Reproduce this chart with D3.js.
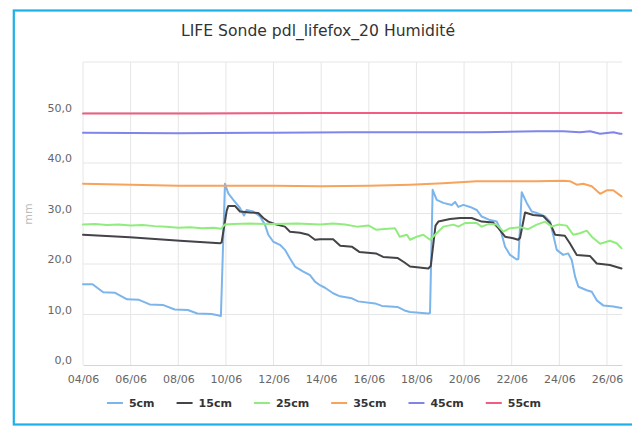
<!DOCTYPE html>
<html>
<head>
<meta charset="utf-8">
<script src="https://cdn.jsdelivr.net/npm/d3@7"></script>
<style>
  body { margin: 0; background: #fff; }
  text { font-family: "DejaVu Sans", sans-serif; }
</style>
</head>
<body>
<svg id="drawing_region"></svg>
<script>
// day offsets from 04/06 00:00, value in mm
const s5cm = [[0,16.0],[0.4,16.0],[0.85,14.4],[1.35,14.3],[1.85,13.0],[2.35,12.9],[2.8,12.0],[3.35,11.9],[3.85,11.0],[4.4,10.9],[4.8,10.2],[5.4,10.1],[5.7,9.8],[5.79,9.7],[5.96,35.9],[6.10,34.0],[6.31,32.7],[6.59,31.1],[6.76,29.6],[6.87,30.7],[7.15,30.4],[7.43,29.4],[7.64,27.8],[7.78,25.8],[7.99,24.4],[8.27,23.8],[8.48,22.8],[8.69,21.1],[8.90,19.5],[9.25,18.5],[9.53,17.8],[9.74,16.5],[9.95,15.8],[10.16,15.3],[10.5,14.2],[10.79,13.6],[11.29,13.2],[11.55,12.6],[12.26,12.2],[12.55,11.7],[13.2,11.5],[13.5,10.8],[13.73,10.5],[14.50,10.2],[14.57,10.3],[14.68,34.7],[14.85,32.7],[15.13,32.1],[15.48,31.7],[15.62,32.3],[15.76,31.3],[15.97,31.7],[16.25,31.3],[16.53,30.7],[16.74,29.4],[17.09,28.7],[17.37,28.4],[17.51,27.1],[17.72,23.4],[17.93,21.8],[18.21,20.9],[18.28,21.0],[18.42,34.2],[18.63,32.1],[18.84,30.4],[19.05,30.1],[19.40,29.4],[19.61,28.4],[19.74,25.8],[19.89,22.8],[20.16,21.8],[20.37,22.1],[20.52,20.8],[20.66,17.5],[20.80,15.5],[21.15,14.8],[21.36,14.5],[21.57,12.8],[21.84,11.8],[22.26,11.6],[22.61,11.3]];
const s15cm = [[0,25.8],[1.97,25.3],[4.07,24.6],[5.75,24.1],[5.82,24.3],[6.03,30.5],[6.10,31.5],[6.38,31.5],[6.59,30.4],[7.01,30.2],[7.36,30.1],[7.57,29.1],[7.78,28.4],[8.13,27.8],[8.48,27.4],[8.69,26.4],[9.11,26.2],[9.46,25.8],[9.74,24.8],[9.95,24.9],[10.5,24.9],[10.8,23.6],[11.3,23.4],[11.6,22.4],[12.3,22.1],[12.6,21.4],[13.2,21.2],[13.5,20.3],[13.73,19.5],[14.5,19.1],[14.6,19.6],[14.8,27.6],[14.92,28.4],[15.41,28.9],[15.83,29.1],[16.32,29.1],[16.74,28.4],[17.22,28.2],[17.44,27.1],[17.72,25.4],[18.06,25.1],[18.27,24.8],[18.35,25.2],[18.56,30.2],[18.90,29.7],[19.32,29.5],[19.61,28.1],[19.82,25.8],[20.23,25.6],[20.44,24.1],[20.73,21.8],[21.28,21.6],[21.57,20.1],[22.12,19.8],[22.61,19.1]];
const s25cm = [[0,27.8],[0.5,27.9],[1.0,27.7],[1.5,27.8],[2.0,27.6],[2.5,27.7],[3.0,27.5],[3.5,27.4],[4.0,27.2],[4.5,27.3],[5.0,27.1],[5.5,27.2],[5.8,27.0],[5.95,27.8],[6.3,27.9],[7.0,28.0],[8.0,27.9],[9.0,28.0],[9.95,27.8],[10.5,28.0],[11.0,27.8],[11.5,27.4],[12.0,27.6],[12.3,26.8],[12.8,27.0],[13.1,27.1],[13.3,25.4],[13.6,25.8],[13.73,24.8],[14.01,25.4],[14.29,25.8],[14.57,24.8],[14.78,25.8],[15.13,27.4],[15.55,27.8],[15.76,27.4],[16.04,28.1],[16.53,28.1],[16.74,27.4],[17.02,27.9],[17.37,27.8],[17.65,26.4],[17.93,27.1],[18.35,27.3],[18.69,26.9],[19.05,27.8],[19.40,28.4],[19.68,27.4],[19.95,27.8],[20.31,27.6],[20.58,25.8],[20.86,26.1],[21.15,26.6],[21.36,25.4],[21.71,24.0],[22.12,24.6],[22.41,24.1],[22.61,23.1]];
const s35cm = [[0,35.9],[2,35.7],[4,35.5],[6,35.5],[8,35.5],[10,35.4],[12,35.5],[13.73,35.7],[15.13,36.0],[16.53,36.4],[17.93,36.4],[19.05,36.4],[20.16,36.5],[20.44,36.4],[20.73,35.7],[21.0,35.9],[21.36,35.4],[21.71,33.9],[21.99,34.6],[22.26,34.6],[22.61,33.4]];
const s45cm = [[0,46.0],[4,45.9],[8,46.0],[11.2,46.1],[16.8,46.1],[19.05,46.3],[20.16,46.3],[20.86,46.1],[21.29,46.3],[21.71,45.8],[22.27,46.1],[22.54,45.8],[22.61,45.8]];
const s55cm = [[0,49.8],[5,49.8],[10,49.9],[15,49.9],[20,49.9],[22.61,49.9]];

const seriesNames = ['5cm', '15cm', '25cm', '35cm', '45cm', '55cm'];
const seriesColors = ['#7cb5ec', '#434348', '#90ed7d', '#f7a35c', '#8085e9', '#f15c80'];
const xTickLabels = ['04/06','06/06','08/06','10/06','12/06','14/06','16/06','18/06','20/06','22/06','24/06','26/06'];
const yTicks = [0, 10, 20, 30, 40, 50, 60];

const start = new Date(2021, 5, 4);
const toDate = d => new Date(+start + d * 864e5);

const data = [s5cm, s15cm, s25cm, s35cm, s45cm, s55cm].map((s, i) => ({
    name: seriesNames[i],
    color: seriesColors[i],
    values: s.map(p => ({ t: toDate(p[0]), v: p[1] }))
}));

class LineChart {
    constructor( config, data ) {
        this.config = config;
        this.data = data;
        this.init();
    }

    init() {
        let self = this;
        self.svg = d3.select( self.config.parent )
            .attr('width', self.config.width)
            .attr('height', self.config.height);

        // frame
        self.svg.append('rect')
            .attr('x', 13.8).attr('y', 10.5)
            .attr('width', 660).attr('height', 414)
            .attr('fill', '#fff')
            .attr('stroke', '#1cb0e8')
            .attr('stroke-width', 2.2);

        self.svg.append('text')
            .attr('x', 318).attr('y', 36)
            .attr('text-anchor', 'middle')
            .attr('font-size', '15.6px')
            .attr('fill', '#333')
            .text('LIFE Sonde pdl_lifefox_20 Humidité');

        const m = self.config.margin;
        self.inner_width = self.config.width - m.left - m.right;
        self.inner_height = self.config.height - m.top - m.bottom;

        self.chart = self.svg.append('g')
            .attr('transform', `translate(${m.left}, ${m.top})`);

        self.xscale = d3.scaleTime()
            .domain([toDate(0), toDate(22.63)])
            .range([0, self.inner_width]);

        self.yscale = d3.scaleLinear()
            .domain([0, 60])
            .range([self.inner_height, 0]);
    }

    update() {
        let self = this;
        self.render();
    }

    render() {
        let self = this;
        const parse = d3.timeParse('%d/%m/%Y');
        const xticks = xTickLabels.map(l => parse(l + '/2021'));
        const fmt = d3.timeFormat('%d/%m');

        // vertical grid
        self.chart.append('g')
            .selectAll('line')
            .data(xticks)
            .join('line')
            .attr('x1', d => self.xscale(d)).attr('x2', d => self.xscale(d))
            .attr('y1', 0).attr('y2', self.inner_height)
            .attr('stroke', '#e6e6e6');

        // horizontal grid
        self.chart.append('g')
            .selectAll('line')
            .data(yTicks.filter(d => d > 0))
            .join('line')
            .attr('x1', 0).attr('x2', self.inner_width)
            .attr('y1', d => self.yscale(d)).attr('y2', d => self.yscale(d))
            .attr('stroke', '#e6e6e6');

        // x axis
        const xaxis = d3.axisBottom(self.xscale)
            .tickValues(xticks)
            .tickFormat(fmt)
            .tickSize(0)
            .tickPadding(10);
        const xg = self.chart.append('g')
            .attr('transform', `translate(0, ${self.inner_height})`)
            .call(xaxis);
        xg.select('.domain').attr('stroke', '#ccd6eb');
        xg.selectAll('text').attr('font-size', '11px').attr('fill', '#666')
            .style('font-family', '"DejaVu Sans", sans-serif');

        // y axis
        const yaxis = d3.axisLeft(self.yscale)
            .tickValues(yTicks.filter(d => d < 60))
            .tickFormat(d => d3.format('.1f')(d).replace('.', ','))
            .tickSize(0)
            .tickPadding(11);
        const yg = self.chart.append('g').call(yaxis);
        yg.select('.domain').remove();
        yg.selectAll('text').attr('font-size', '11px').attr('fill', '#666')
            .attr('dy', '-0.12em')
            .style('font-family', '"DejaVu Sans", sans-serif');

        self.svg.append('text')
            .attr('transform', 'translate(32, 214) rotate(-90)')
            .attr('text-anchor', 'middle')
            .attr('font-size', '11px')
            .attr('fill', '#bcbcbc')
            .text('mm');

        // lines
        const line = d3.line()
            .x(d => self.xscale(d.t))
            .y(d => self.yscale(d.v));

        self.chart.selectAll('.series')
            .data(self.data)
            .join('path')
            .attr('class', 'series')
            .attr('d', d => line(d.values))
            .attr('stroke', d => d.color)
            .attr('stroke-width', 2)
            .attr('stroke-linejoin', 'round')
            .attr('stroke-linecap', 'round')
            .attr('fill', 'none');

        // legend
        const legend = self.svg.append('g');
        const items = legend.selectAll('g')
            .data(self.data)
            .join('g');
        items.append('line')
            .attr('x1', 0).attr('x2', 16)
            .attr('y1', 0).attr('y2', 0)
            .attr('stroke', d => d.color)
            .attr('stroke-width', 2);
        items.append('text')
            .attr('x', 22).attr('y', 4)
            .attr('font-size', '11px')
            .attr('font-weight', 'bold')
            .attr('fill', '#333')
            .text(d => d.name);
        let x = 0;
        const pos = [];
        items.each(function() {
            const w = d3.select(this).select('text').node().getComputedTextLength();
            pos.push(x);
            x += 22 + w + 22;
        });
        const total = x - 22;
        const x0 = 324 - total / 2;
        items.attr('transform', (d, i) => `translate(${x0 + pos[i]}, 403)`);
    }
}

const config = {
    parent: '#drawing_region',
    width: 632,
    height: 426,
    margin: {top: 62, right: 10, bottom: 61, left: 83}
};
const line_chart = new LineChart( config, data );
line_chart.update();
</script>
</body>
</html>
